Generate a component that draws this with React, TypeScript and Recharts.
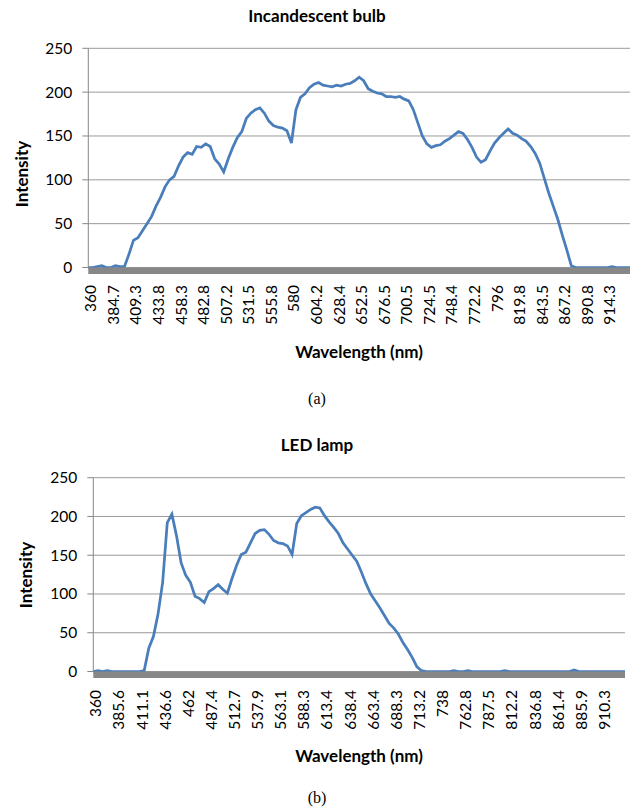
import React from 'react';
import { LineChart, Line, XAxis, YAxis, CartesianGrid } from 'recharts';

// ---------- (a) Incandescent bulb ----------
const bulbWavelengths = [
  360, 364.9, 369.9, 374.8, 379.8,
  384.7, 389.6, 394.5, 399.5, 404.4,
  409.3, 414.2, 419.1, 424.0, 428.9,
  433.8, 438.7, 443.6, 448.5, 453.4,
  458.3, 463.2, 468.1, 473.0, 477.9,
  482.8, 487.7, 492.5, 497.4, 502.3,
  507.2, 512.1, 516.9, 521.8, 526.6,
  531.5, 536.4, 541.2, 546.1, 550.9,
  555.8, 560.6, 565.5, 570.3, 575.2,
  580, 584.8, 589.7, 594.5, 599.4,
  604.2, 609.0, 613.9, 618.7, 623.6,
  628.4, 633.2, 638.0, 642.9, 647.7,
  652.5, 657.3, 662.1, 666.9, 671.7,
  676.5, 681.3, 686.1, 690.9, 695.7,
  700.5, 705.3, 710.1, 714.9, 719.7,
  724.5, 729.3, 734.1, 738.8, 743.6,
  748.4, 753.2, 757.9, 762.7, 767.4,
  772.2, 777.0, 781.7, 786.5, 791.2,
  796, 800.8, 805.5, 810.3, 815.0,
  819.8, 824.5, 829.3, 834.0, 838.8,
  843.5, 848.2, 853.0, 857.7, 862.5,
  867.2, 871.9, 876.6, 881.4, 886.1,
  890.8, 895.5, 900.2, 904.9, 909.6,
  914.3, 919.0, 923.7, 928.4, 933.0,
  937.7,
];

const bulbIntensity = [
  0, 0, 1, 2, 0,
  0, 2, 1, 1, 15,
  31, 34, 42, 50, 58,
  70, 80, 92, 100, 104,
  116, 126, 131, 129, 138,
  137, 141, 138, 124, 118,
  109, 124, 137, 148, 155,
  170, 176, 180, 182, 176,
  167, 162, 160, 159, 156,
  142, 180, 194, 198, 205,
  209, 211, 208, 207, 206,
  208, 207, 209, 210, 213,
  217, 213, 204, 201, 199,
  198, 195, 195, 194, 195,
  192, 190, 180, 165, 150,
  141, 137, 139, 140, 144,
  147, 151, 155, 153, 146,
  137, 126, 120, 123, 133,
  142, 148, 153, 158, 153,
  151, 147, 144, 138, 130,
  119, 102, 85, 70, 55,
  37, 20, 2, 0, 0,
  0, 0, 0, 0, 0,
  0, 1, 0, 0, 0,
  0,
];

const bulbTickLabels = [
  360, 384.7, 409.3, 433.8, 458.3, 482.8, 507.2, 531.5, 555.8, 580, 604.2, 628.4,
  652.5, 676.5, 700.5, 724.5, 748.4, 772.2, 796, 819.8, 843.5, 867.2, 890.8, 914.3,
];

// ---------- (b) LED lamp ----------
const ledWavelengths = [
  360, 365.1, 370.2, 375.4, 380.5,
  385.6, 390.7, 395.8, 400.9, 406.0,
  411.1, 416.2, 421.3, 426.4, 431.5,
  436.6, 441.7, 446.7, 451.8, 456.9,
  462, 467.1, 472.2, 477.2, 482.3,
  487.4, 492.5, 497.5, 502.6, 507.6,
  512.7, 517.7, 522.8, 527.8, 532.9,
  537.9, 542.9, 548.0, 553.0, 558.1,
  563.1, 568.1, 573.2, 578.2, 583.3,
  588.3, 593.3, 598.3, 603.4, 608.4,
  613.4, 618.4, 623.4, 628.5, 633.4,
  638.4, 643.4, 648.4, 653.4, 658.4,
  663.4, 668.4, 673.4, 678.3, 683.3,
  688.3, 693.3, 698.3, 703.2, 708.2,
  713.2, 718.2, 723.1, 728.1, 733.0,
  738, 743.0, 748.0, 752.9, 757.8,
  762.8, 767.7, 772.7, 777.6, 782.6,
  787.5, 792.4, 797.4, 802.3, 807.3,
  812.2, 817.1, 822.0, 827.0, 831.9,
  836.8, 841.7, 846.6, 851.6, 856.5,
  861.4, 866.3, 871.2, 876.1, 881.0,
  885.9, 890.8, 895.7, 900.6, 905.4,
  910.3, 915.2, 920.0, 924.9, 929.8,
  934.6,
];

const ledIntensity = [
  0, 1, 0, 1, 0,
  0, 0, 0, 0, 0,
  0, 1, 30, 45, 74,
  115, 192, 203, 175, 140,
  124, 115, 97, 94, 89,
  103, 107, 112, 106, 101,
  120, 137, 151, 154, 166,
  178, 182, 183, 177, 169,
  166, 165, 162, 151, 191,
  201, 205, 209, 212, 211,
  201, 193, 186, 178, 166,
  158, 150, 142, 128, 113,
  100, 91, 82, 72, 62,
  56, 48, 37, 28, 18,
  6, 1, 0, 0, 0,
  0, 0, 0, 1, 0,
  0, 1, 0, 0, 0,
  0, 0, 0, 0, 1,
  0, 0, 0, 0, 0,
  0, 0, 0, 0, 0,
  0, 0, 0, 0, 2,
  0, 0, 0, 0, 0,
  0, 0, 0, 0, 0,
  0,
];

const ledTickLabels = [
  360, 385.6, 411.1, 436.6, 462, 487.4, 512.7, 537.9, 563.1, 588.3, 613.4, 638.4,
  663.4, 688.3, 713.2, 738, 762.8, 787.5, 812.2, 836.8, 861.4, 885.9, 910.3,
];

const intensityTicks = [0, 50, 100, 150, 200, 250];

const FONT = 'Lato, "Open Sans", sans-serif';
const LINE_COLOR = '#4a7ebb';
const GRID_COLOR = '#9a9a9a';
const AXIS_COLOR = '#878787';
const Y_AXIS_WIDTH = 40;
const X_AXIS_HEIGHT = 20;

const RotatedTick = (props: any) => {
  const { x, y, payload } = props;
  const tx = x + 8;
  return (
    <text
      x={tx}
      y={y}
      transform={`rotate(-90 ${tx} ${y})`}
      textAnchor="end"
      fontFamily={FONT}
      fontSize={15.5}
      fill="#000"
    >
      {payload.value}
    </text>
  );
};

type ChartProps = {
  wavelengths: number[];
  intensity: number[];
  tickLabels: number[];
  height: number;
  plotLeft: number;
  plotRight: number;
  plotTop: number;
  plotBottom: number;
  tickMargin: number;
};

function SpectrumChart({ wavelengths, intensity, tickLabels, height, plotLeft, plotRight, plotTop, plotBottom, tickMargin }: ChartProps) {
  const data = wavelengths.map((w, i) => ({ wavelength: w, intensity: intensity[i] }));
  const margin = {
    top: plotTop,
    right: 630 - plotRight,
    bottom: height - plotBottom - X_AXIS_HEIGHT,
    left: plotLeft - Y_AXIS_WIDTH,
  };
  return (
    <LineChart width={630} height={height} data={data} margin={margin}>
      <CartesianGrid vertical={false} stroke={GRID_COLOR} strokeWidth={1} />
      <XAxis
        dataKey="wavelength"
        type="category"
        ticks={tickLabels}
        interval={0}
        height={X_AXIS_HEIGHT}
        tickLine={false}
        tickSize={0}
        tickMargin={tickMargin}
        axisLine={{ stroke: AXIS_COLOR, strokeWidth: 6.5, transform: 'translate(0 3.2)' }}
        tick={<RotatedTick />}
      />
      <YAxis
        type="number"
        domain={[0, 250]}
        ticks={intensityTicks}
        interval={0}
        width={Y_AXIS_WIDTH}
        axisLine={{ stroke: AXIS_COLOR }}
        tickLine={{ stroke: AXIS_COLOR }}
        tickSize={6}
        tickMargin={10}
        tick={{ fontFamily: FONT, fontSize: 15.5, fill: '#000' }}
      />
      <Line
        dataKey="intensity"
        type="linear"
        stroke={LINE_COLOR}
        strokeWidth={2.75}
        dot={false}
        isAnimationActive={false}
      />
    </LineChart>
  );
}

export default function App() {
  const boldText = { fontFamily: FONT, fontWeight: 700, fontSize: 17, fill: '#000' } as const;
  const caption = { fontFamily: '"Liberation Serif", "DejaVu Serif", serif', fontSize: 16, fill: '#000' } as const;
  return (
    <div style={{ position: 'absolute', left: 0, top: 0, width: 630, height: 812, background: '#fff' }}>
      <div style={{ position: 'absolute', left: 0, top: 0 }}>
        <SpectrumChart
          wavelengths={bulbWavelengths}
          intensity={bulbIntensity}
          tickLabels={bulbTickLabels}
          height={400}
          plotLeft={88.3}
          plotRight={630}
          plotTop={48.3}
          plotBottom={267.5}
          tickMargin={17.5}
        />
      </div>
      <div style={{ position: 'absolute', left: 0, top: 410 }}>
        <SpectrumChart
          wavelengths={ledWavelengths}
          intensity={ledIntensity}
          tickLabels={ledTickLabels}
          height={400}
          plotLeft={93.3}
          plotRight={625}
          plotTop={67.7}
          plotBottom={261.5}
          tickMargin={18.5}
        />
      </div>
      <svg
        width={630}
        height={812}
        style={{ position: 'absolute', left: 0, top: 0, pointerEvents: 'none' }}
      >
        <text x={317} y={21.7} textAnchor="middle" {...boldText}>Incandescent bulb</text>
        <text x={28.3} y={174} textAnchor="middle" transform="rotate(-90 28.3 174)" {...boldText}>Intensity</text>
        <text x={359} y={357.7} textAnchor="middle" {...boldText}>Wavelength (nm)</text>
        <text x={317} y={404} textAnchor="middle" {...caption}>(a)</text>

        <text x={317} y={451} textAnchor="middle" {...boldText}>LED lamp</text>
        <text x={31.7} y={575} textAnchor="middle" transform="rotate(-90 31.7 575)" {...boldText}>Intensity</text>
        <text x={359} y={761.7} textAnchor="middle" {...boldText}>Wavelength (nm)</text>
        <text x={317} y={803} textAnchor="middle" {...caption}>(b)</text>
      </svg>
    </div>
  );
}
